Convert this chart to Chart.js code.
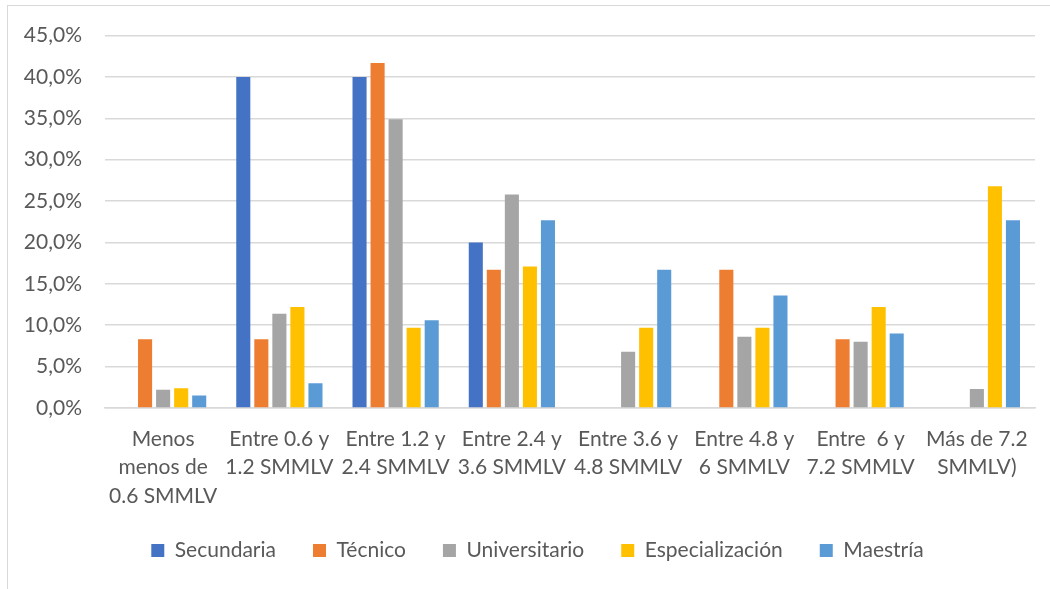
<!DOCTYPE html>
<html>
<head>
<meta charset="utf-8">
<script src="https://cdn.jsdelivr.net/npm/chart.js@4"></script>
<style>
  html, body { margin: 0; padding: 0; background: #fff; overflow: hidden; }
  .frame { position: absolute; left: 7px; top: 5px; width: 1100px; height: 640px; border: 1px solid #d9d9d9; }
  .wrap { position: absolute; left: 0; top: 0; width: 1050px; height: 589px; }
</style>
</head>
<body>
<div class="frame"></div>
<div class="wrap"><canvas id="myChart" width="1050" height="589"></canvas></div>
<script>
// categories (income ranges)
const categories = [
  ["Menos", "menos de", "0.6 SMMLV"],
  ["Entre 0.6 y", "1.2 SMMLV"],
  ["Entre 1.2 y", "2.4 SMMLV"],
  ["Entre 2.4 y", "3.6 SMMLV"],
  ["Entre 3.6 y", "4.8 SMMLV"],
  ["Entre 4.8 y", "6 SMMLV"],
  ["Entre  6 y", "7.2 SMMLV"],
  ["Más de 7.2", "SMMLV)"],
];

// values in percent
const secundaria = [null, 40.0, 40.0, 20.0, null, null, null, null];
const tecnico = [8.3, 8.3, 41.7, 16.7, null, 16.7, 8.3, null];
const universitario = [2.2, 11.4, 34.9, 25.8, 6.8, 8.6, 8.0, 2.3];
const especializacion = [2.4, 12.2, 9.7, 17.1, 9.7, 9.7, 12.2, 26.8];
const maestria = [1.5, 3.0, 10.6, 22.7, 16.7, 13.6, 9.0, 22.7];

const yTicks = [0, 5, 10, 15, 20, 25, 30, 35, 40, 45];

const FONT = "Lato, 'Noto Sans', sans-serif";

// nudge the legend a bit to the right, like the original
const legendShift = {
  id: "legendShift",
  afterLayout(chart) {
    if (chart.legend) {
      chart.legend.left += 20;
      chart.legend.right += 20;
    }
  },
};

const ctx = document.getElementById("myChart");
new Chart(ctx, {
  type: "bar",
  data: {
    labels: categories,
    datasets: [
      { label: "Secundaria", data: secundaria, backgroundColor: "#4472C4" },
      { label: "Técnico", data: tecnico, backgroundColor: "#ED7D31" },
      { label: "Universitario", data: universitario, backgroundColor: "#A5A5A5" },
      { label: "Especialización", data: especializacion, backgroundColor: "#FFC000" },
      { label: "Maestría", data: maestria, backgroundColor: "#5B9BD5" },
    ],
  },
  plugins: [legendShift],
  options: {
    responsive: false,
    animation: false,
    categoryPercentage: 0.776,
    barPercentage: 0.78,
    layout: { padding: { top: 35, right: 15, left: 0, bottom: 18 } },
    plugins: {
      tooltip: { enabled: false },
      legend: {
        position: "bottom",
        labels: {
          color: "#595959",
          font: { family: FONT, size: 21 },
          boxWidth: 13,
          boxHeight: 13,
          padding: 37,
        },
      },
    },
    scales: {
      x: {
        grid: { display: false, drawTicks: false },
        border: { color: "#d9d9d9", width: 1.5 },
        ticks: {
          color: "#595959",
          font: { family: FONT, size: 21, lineHeight: 1.35 },
          padding: 17,
          maxRotation: 0,
          autoSkip: false,
        },
        afterFit: (scale) => { scale.height = 95; },
      },
      y: {
        min: 0,
        max: 45,
        afterBuildTicks: (scale) => { scale.ticks = yTicks.map((v) => ({ value: v })); },
        grid: { color: "#d9d9d9", lineWidth: 1.5, drawTicks: false },
        border: { display: false },
        ticks: {
          color: "#595959",
          font: { family: FONT, size: 21 },
          padding: 23,
          callback: (v) => v.toFixed(1).replace(".", ",") + "%",
        },
        afterFit: (scale) => { scale.width = 105; },
      },
    },
  },
});
</script>
</body>
</html>
